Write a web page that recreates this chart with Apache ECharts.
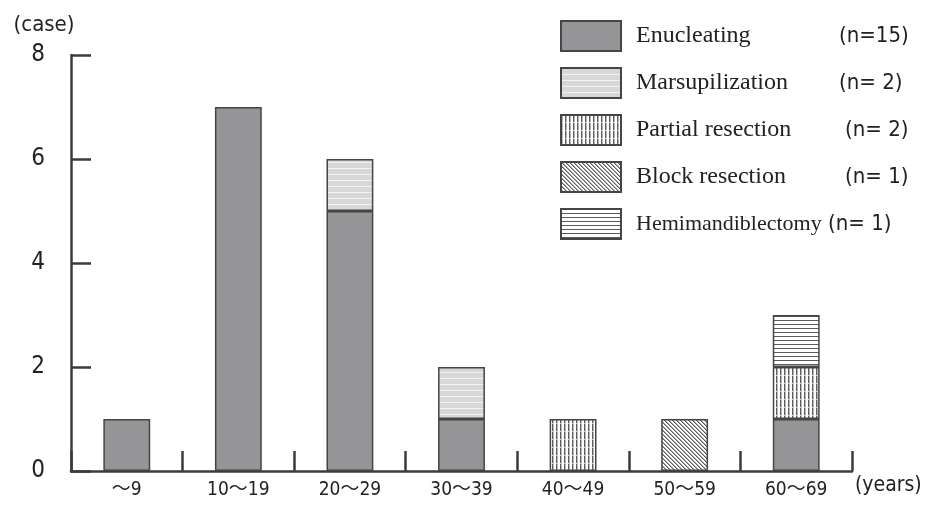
<!DOCTYPE html>
<html lang="en">
<head>
	<meta charset="UTF-8">
	<title>Treatment by age group</title>
	<style type="text/css">
		html, body { margin: 0; padding: 0; background: #fff; }
		#a { width: 932px; height: 510px; }
	</style>
</head>
<body>
	<div id="a"></div>
	<script type="text/javascript" src="https://cdn.jsdelivr.net/npm/echarts@6/dist/echarts.min.js"></script>
	<script type="text/javascript">
		// data
		var ages = ['\uFF5E9', '10\uFF5E19', '20\uFF5E29', '30\uFF5E39', '40\uFF5E49', '50\uFF5E59', '60\uFF5E69'];
		var names = ['Enucleating', 'Marsupilization', 'Partial resection', 'Block resection', 'Hemimandiblectomy'];
		var enucleating = [1, 7, 5, 1, 0, 0, 1];
		var marsupilization = [0, 0, 1, 1, 0, 0, 0];
		var partial = [0, 0, 0, 0, 1, 0, 1];
		var block = [0, 0, 0, 0, 0, 1, 0];
		var hemi = [0, 0, 0, 0, 0, 0, 1];
		var yTicks = [0, 2, 4, 6, 8];

		var sans = "'Liberation Sans Narrow', 'DejaVu Sans Condensed', 'Noto Sans CJK JP', sans-serif";
		var serif = "'Liberation Serif', 'DejaVu Serif', serif";

		// small canvas tiles used as fill patterns
		function tile(w, h, draw) {
			var c = document.createElement('canvas');
			c.width = w; c.height = h;
			var g = c.getContext('2d');
			g.fillStyle = '#fff';
			g.fillRect(0, 0, w, h);
			draw(g);
			return { image: c, repeat: 'repeat' };
		}
		var fills = [
			'#959598',
			tile(4, 6, function (g) {
				g.fillStyle = '#d7d7d7'; g.fillRect(0, 0, 4, 6);
				g.fillStyle = '#f2f2f2'; g.fillRect(0, 0, 4, 1);
			}),
			tile(4, 8, function (g) {
				g.fillStyle = '#5e5e5e'; g.fillRect(0, 0, 1, 8);
				g.fillStyle = '#b4b4b4'; g.fillRect(1, 0, 1, 8);
				g.fillStyle = '#d0d0d0'; g.fillRect(0, 7, 2, 1);
			}),
			tile(4, 4, function (g) {
				for (var i = 0; i < 4; i++) {
					g.fillStyle = '#606060'; g.fillRect(i, i, 1, 1);
					g.fillStyle = '#a8a8a8'; g.fillRect((i + 1) % 4, i, 1, 1);
				}
			}),
			tile(4, 4, function (g) {
				g.fillStyle = '#5a5a5a'; g.fillRect(0, 0, 4, 1);
			})
		];

		var values = [enucleating, marsupilization, partial, block, hemi];
		var totals = {};
		var series = [];
		for (var s = 0; s < names.length; s++) {
			var sum = 0;
			for (var k = 0; k < values[s].length; k++) sum += values[s][k];
			totals[names[s]] = sum;
			series.push({
				name: names[s],
				type: 'bar',
				stack: 'all',
				barWidth: '42%',
				data: values[s].map(function (v) { return v === 0 ? '-' : v; }),
				itemStyle: { color: fills[s], borderColor: '#454545', borderWidth: 1.5 }
			});
		}

		var myChart = echarts.init(document.getElementById('a'));
		var dark = { color: '#3c3c3c', width: 2.5 };
		var option = {
			animation: false,
			grid: { left: 71, right: 80, top: 55, bottom: 39 },
			legend: {
				orient: 'vertical',
				left: 555, top: 15,
				icon: 'rect',
				itemWidth: 60, itemHeight: 30, itemGap: 15,
				selectedMode: false,
				data: names,
				formatter: function (name) {
					var n = totals[name];
					var nTxt = '(n=' + (n < 10 ? ' ' + n : n) + ')';
					if (name === 'Hemimandiblectomy') {
						return '{sp|}{hm|' + name + '}{n|' + nTxt + '}';
					}
					var w = name === 'Enucleating' || name === 'Marsupilization' ? 'nm' : 'nm2';
					return '{sp|}{' + w + '|' + name + '}{n|' + nTxt + '}';
				},
				textStyle: {
					rich: {
						sp: { width: 10 },
						nm: { width: 203, fontFamily: serif, fontSize: 24, color: '#222', lineHeight: 30 },
						nm2: { width: 209, fontFamily: serif, fontSize: 24, color: '#222', lineHeight: 30 },
						hm: { width: 192, fontFamily: serif, fontSize: 22, color: '#222', lineHeight: 30 },
						n: { fontFamily: sans, fontSize: 22, color: '#222', lineHeight: 30 }
					}
				}
			},
			xAxis: {
				type: 'category',
				data: ages,
				name: '(years)',
				nameLocation: 'end',
				nameGap: 3,
				nameTextStyle: { fontFamily: sans, fontSize: 21, color: '#222', verticalAlign: 'top', padding: [4, 0, 0, 0] },
				axisLine: { lineStyle: dark },
				axisTick: { show: true, inside: true, length: 20, interval: 0, lineStyle: dark },
				axisLabel: { fontFamily: sans, fontSize: 19, color: '#222', margin: 10, interval: 0 }
			},
			yAxis: {
				type: 'value',
				min: yTicks[0],
				max: yTicks[yTicks.length - 1],
				interval: yTicks[1] - yTicks[0],
				name: '(case)',
				nameLocation: 'end',
				nameGap: 19,
				nameTextStyle: { fontFamily: sans, fontSize: 22, color: '#222', align: 'center', padding: [0, 54, 0, 0] },
				axisLine: { show: true, lineStyle: dark },
				axisTick: { show: true, inside: true, length: 20, lineStyle: dark },
				splitLine: { show: false },
				axisLabel: { fontFamily: sans, fontSize: 24, color: '#222', margin: 26 }
			},
			series: series
		};
		myChart.setOption(option);
	</script>
</body>
</html>
